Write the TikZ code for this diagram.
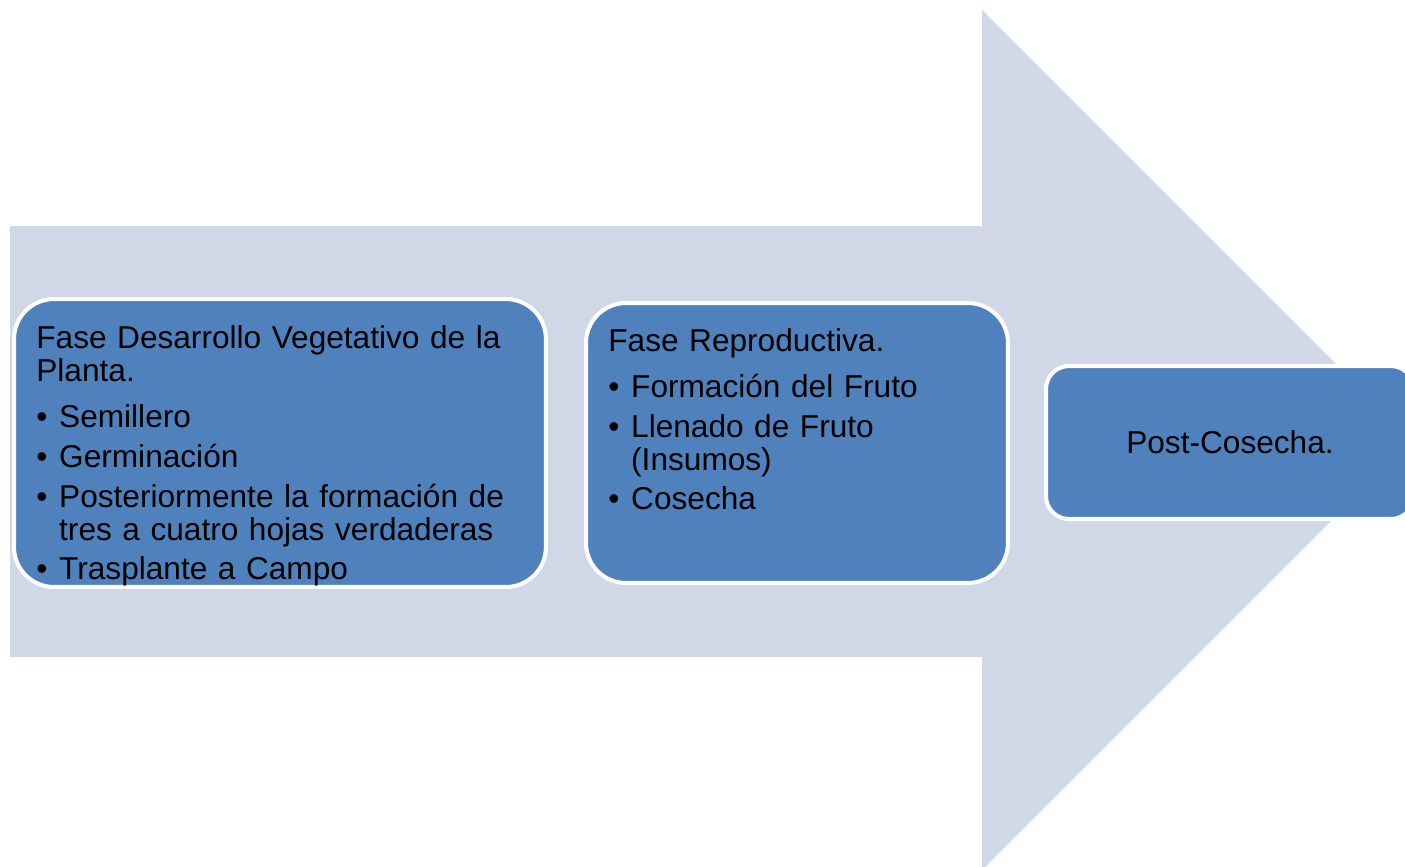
\documentclass[tikz,border=0pt]{standalone}
\usepackage{fontspec}
\setmainfont{Liberation Sans}
\definecolor{flechafondo}{HTML}{D0D8E8}
\definecolor{fasecaja}{HTML}{4F81BD}
\newcommand{\punto}[1]{\par\vspace{4.2pt}\noindent\makebox[13pt][l]{\textbullet}\parbox[t]{9cm}{\raggedright #1}}
\tikzset{
  fase/.style={draw=white, line width=2.3pt, fill=fasecaja, rounded corners=#1,
    anchor=north west, inner sep=0pt, font=\fontsize{18}{18.7}\selectfont},
  fasetexto/.style={anchor=north west, align=left, inner sep=0pt, text width=#1,
    font=\fontsize{18}{18.7}\selectfont},
}

\begin{document}
\begin{tikzpicture}[x=0.02cm, y=-0.02cm]
\useasboundingbox (0,0) rectangle (1405,866);
\clip (0,0) rectangle (1405,866);
\fill[white] (0,0) rectangle (1405,866);
% flecha de fondo
\fill[flechafondo] (10,226) -- (982,226) -- (982,10) -- (1412,440)
  -- (982,870) -- (982,657) -- (10,657) -- cycle;
% cajas
\node[fase=0.8cm, minimum width=10.64cm, minimum height=5.76cm] (vegetativa) at (12,297) {};
\node[fase=0.8cm, minimum width=8.44cm, minimum height=5.6cm] (reproductiva) at (584,301) {};
\node[fase=0.46cm, minimum width=7.36cm, minimum height=3.06cm] (postcosecha) at (1044,364) {Post-Cosecha.};
% textos
\node[fasetexto=10cm] (vegetativatexto) at (36,325) {Fase Desarrollo Vegetativo de la\\Planta.
  \vspace{3.4pt}
  \punto{Semillero}
  \punto{Germinación}
  \punto{Posteriormente la formación de\\tres a cuatro hojas verdaderas}
  \punto{Trasplante a Campo}};
\node[fasetexto=8cm] (reproductivatexto) at (608,328) {Fase Reproductiva.
  \vspace{3.4pt}
  \punto{Formación del Fruto}
  \punto{Llenado de Fruto\\(Insumos)}
  \punto{Cosecha}};
\end{tikzpicture}
\end{document}
